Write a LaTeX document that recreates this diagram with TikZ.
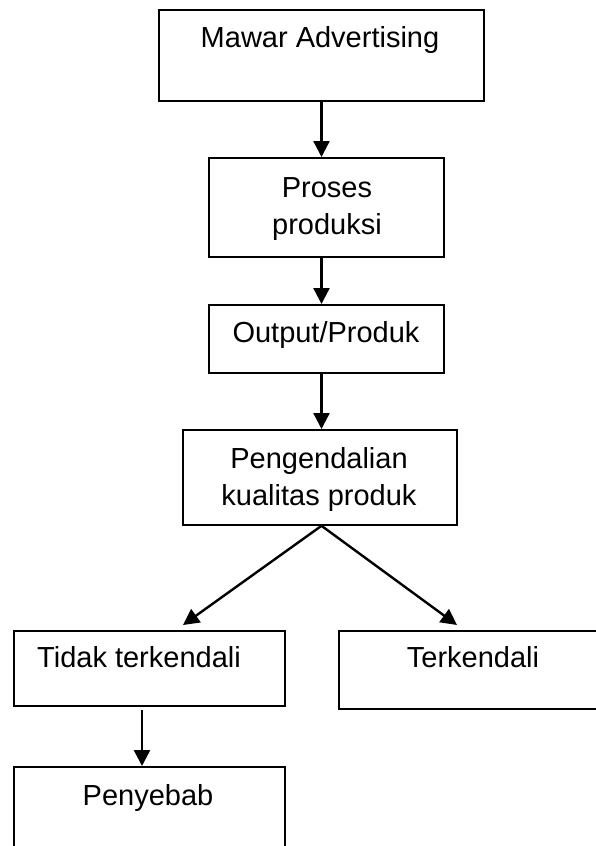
\documentclass[tikz,border=0pt]{standalone}
\usepackage{fontspec}
\setmainfont{Liberation Sans}
\usetikzlibrary{arrows.meta}
\begin{document}
\begin{tikzpicture}[x=1pt,y=-1pt,
  box/.style={draw=black,line width=1.8pt,anchor=north west,inner sep=0pt},
  txt/.style={font=\fontsize{29}{37}\selectfont,inner sep=0pt,align=center},
  arr/.style={line width=2.4pt,-{Triangle[length=16pt,width=16pt]}}]
\useasboundingbox (0,0) rectangle (596,846);
% boxes
\node[box,minimum width=325pt,minimum height=91pt] (b1) at (158,9) {};
\node[box,minimum width=235pt,minimum height=99pt] (b2) at (208,157) {};
\node[box,minimum width=235pt,minimum height=68pt] (b3) at (208,304) {};
\node[box,minimum width=274pt,minimum height=95pt] (b4) at (182,429) {};
\node[box,minimum width=271pt,minimum height=75pt] (b5) at (13,630) {};
\node[box,minimum width=265pt,minimum height=78pt] (b6) at (338,630) {};
\node[box,minimum width=271pt,minimum height=95pt] (b7) at (13,766) {};
% texts (anchor base = baseline of the last line)
\node[txt,anchor=base] (t1) at (320,47) {Mawar Advertising};
\node[txt,anchor=base] (t2) at (327,234) {Proses\\produksi};
\node[txt,anchor=base] (t3) at (326,342) {Output/Produk};
\node[txt,anchor=base] (t4) at (319,505) {Pengendalian\\kualitas produk};
\node[txt,anchor=base] (t5) at (139,667) {Tidak terkendali};
\node[txt,anchor=base] (t6) at (473,667) {Terkendali};
\node[txt,anchor=base] (t7) at (148,805) {Penyebab};
% connectors
\coordinate (sp) at (321.5,0);
\coordinate (sp2) at (142,0);
\coordinate (tl) at (183,625);
\coordinate (tr) at (457,625);
\draw[arr] (b1.south -| sp) -- (b2.north -| sp);
\draw[arr] (b2.south -| sp) -- (b3.north -| sp);
\draw[arr] (b3.south -| sp) -- (b4.north -| sp);
\draw[arr] (b4.south -| sp) -- (tl);
\draw[arr] (b4.south -| sp) -- (tr);
\draw[arr] ([yshift=-3pt]b5.south -| sp2) -- (b7.north -| sp2);
\end{tikzpicture}
\end{document}
